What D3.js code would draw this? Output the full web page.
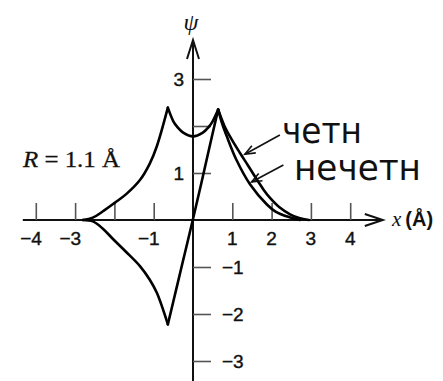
<!DOCTYPE html>
<html>
<head>
<meta charset="utf-8">
<script src="https://cdn.jsdelivr.net/npm/d3@7"></script>
<style>
  html, body { margin: 0; padding: 0; background: #fff; }
  svg { display: block; }
</style>
</head>
<body>
<svg id="chart" width="443" height="381"></svg>
<script>
// Tick positions and their printed labels
const xTicks = [-4, -3, -2, -1, 1, 2, 3, 4];
const xTickLabels = ["−4", "−3", "", "−1", "1", "2", "3", "4"];
const yTicks = [3, 2, 1, -1, -2, -3];
const yTickLabels = ["3", "", "1", "−1", "−2", "−3"];

// Even wavefunction ψ(x), x in Å
const evenX = [-2.8, -2.55, -2.3, -2.0, -1.7, -1.35, -1.1, -0.92, -0.64,
               -0.5, -0.4, -0.25, 0, 0.25, 0.4, 0.5, 0.64,
               0.8, 0.98, 1.2, 1.4, 1.58, 1.8, 1.96, 2.2, 2.47, 2.7, 2.95];
const evenY = [0, 0.05, 0.18, 0.36, 0.55, 0.85, 1.2, 1.57, 2.39,
               2.10, 1.98, 1.86, 1.78, 1.86, 1.98, 2.10, 2.35,
               2.0, 1.72, 1.42, 1.16, 0.92, 0.64, 0.47, 0.27, 0.12, 0.04, 0];
const evenCusps = [-0.64, 0.64];

// Odd wavefunction ψ(x)
const oddX = [-2.8, -2.55, -2.3, -2.03, -1.7, -1.35, -1.1, -0.92, -0.64,
              -0.4, -0.2, 0, 0.2, 0.4, 0.64,
              0.75, 0.86, 1.11, 1.45, 1.88, 2.1, 2.38, 2.72];
const oddY = [0, -0.03, -0.18, -0.41, -0.68, -0.98, -1.27, -1.55, -2.22,
              -1.38, -0.68, 0.02, 0.74, 1.48, 2.35,
              2.03, 1.78, 1.27, 0.76, 0.33, 0.18, 0.08, 0];
const oddCusps = [-0.64, 0.64];

// Curve labels with pointer arrows (from, to) in data units
const curveLabels = ["четн", "нечетн"];
const labelArrowFrom = [[2.21, 1.81], [2.30, 1.17]];
const labelArrowTo = [[1.32, 1.40], [1.49, 0.81]];

const svg = d3.select("#chart");

const x = d3.scaleLinear().domain([-4, 4]).range([35.8, 350.2]);
const y = d3.scaleLinear().domain([-3, 3]).range([361, 79]);

const x0 = x(0), y0 = y(0);

// Axis lines with arrowheads
const axisG = svg.append("g").attr("stroke", "#111").attr("fill", "none")
  .attr("stroke-width", 2);
axisG.append("line").attr("x1", x(-4.33)).attr("x2", x(4.83))
  .attr("y1", y0).attr("y2", y0);
axisG.append("line").attr("x1", x0).attr("x2", x0)
  .attr("y1", y(-3.5)).attr("y2", y(3.83));
const xt = x(4.83), yt = y(3.83);
axisG.append("path").attr("d", `M${xt - 18},${y0 - 6} L${xt},${y0} L${xt - 18},${y0 + 6}`)
  .attr("stroke-linejoin", "miter");
axisG.append("path").attr("d", `M${x0 - 6},${yt + 19} L${x0},${yt} L${x0 + 6},${yt + 19}`)
  .attr("stroke-linejoin", "miter");

// Tick marks
const xAxis = svg.append("g").attr("transform", `translate(0,${y0})`)
  .call(d3.axisTop(x).tickValues(xTicks).tickSize(17).tickFormat(""));
const yAxis = svg.append("g").attr("transform", `translate(${x0},0)`)
  .call(d3.axisRight(y).tickValues(yTicks).tickSize(18).tickFormat(""));
[xAxis, yAxis].forEach(g => {
  g.select(".domain").remove();
  g.selectAll(".tick line").attr("stroke", "#555").attr("stroke-width", 1.6);
});

// Tick labels
const tickFont = "'Liberation Sans', Arial, sans-serif";
svg.append("g").selectAll("text").data(xTicks).join("text")
  .attr("x", (d, i) => d < 0 ? x(d) + 6 : x(d))
  .attr("y", 245)
  .attr("text-anchor", d => d < 0 ? "end" : "middle")
  .attr("font-family", tickFont).attr("font-size", 19).attr("fill", "#111")
  .attr("stroke", "#111").attr("stroke-width", 0.4)
  .text((d, i) => xTickLabels[i]);
svg.append("g").selectAll("text").data(yTicks).join("text")
  .attr("x", d => d > 0 ? x0 - 9 : x0 + 29)
  .attr("y", d => y(d) + 7)
  .attr("text-anchor", d => d > 0 ? "end" : "start")
  .attr("font-family", tickFont).attr("font-size", 19).attr("fill", "#111")
  .attr("stroke", "#111").attr("stroke-width", 0.4)
  .text((d, i) => yTickLabels[i]);

// Split a series at its cusps so the peaks stay sharp
function segments(xs, ys, cusps) {
  const pts = xs.map((v, i) => [v, ys[i]]);
  const out = [];
  let cur = [];
  pts.forEach(p => {
    cur.push(p);
    if (cusps.includes(p[0])) { out.push(cur); cur = [p]; }
  });
  if (cur.length > 1) out.push(cur);
  return out;
}

const line = d3.line().x(d => x(d[0])).y(d => y(d[1]))
  .curve(d3.curveCatmullRom.alpha(0.5));

const curves = svg.append("g").attr("fill", "none").attr("stroke", "#000")
  .attr("stroke-width", 2.6).attr("stroke-linejoin", "miter")
  .attr("stroke-linecap", "round");
segments(evenX, evenY, evenCusps).forEach(s => curves.append("path").attr("d", line(s)));
segments(oddX, oddY, oddCusps).forEach(s => curves.append("path").attr("d", line(s)));

// Pointer arrows for curve labels
const arrows = svg.append("g").attr("stroke", "#111").attr("stroke-width", 1.6)
  .attr("fill", "none");
labelArrowFrom.forEach((f, i) => {
  const t = labelArrowTo[i];
  const fx = x(f[0]), fy = y(f[1]), tx = x(t[0]), ty = y(t[1]);
  arrows.append("line").attr("x1", fx).attr("y1", fy).attr("x2", tx).attr("y2", ty);
  const ang = Math.atan2(fy - ty, fx - tx);
  const L = 11, w = 0.38;
  arrows.append("path").attr("d",
    `M${tx + L * Math.cos(ang + w)},${ty + L * Math.sin(ang + w)} L${tx},${ty} L${tx + L * Math.cos(ang - w)},${ty + L * Math.sin(ang - w)}`);
});

// Curve label text
const labelFont = "'DejaVu Sans', Verdana, sans-serif";
svg.append("text").attr("x", 282).attr("y", 143)
  .attr("font-family", labelFont).attr("font-size", 36).attr("fill", "#111")
  .attr("textLength", 80).attr("lengthAdjust", "spacingAndGlyphs")
  .text(curveLabels[0]);
svg.append("text").attr("x", 294).attr("y", 180)
  .attr("font-family", labelFont).attr("font-size", 36).attr("fill", "#111")
  .attr("textLength", 127).attr("lengthAdjust", "spacingAndGlyphs")
  .text(curveLabels[1]);

// Axis names and the separation note
const serif = "'Liberation Serif', 'Times New Roman', serif";
svg.append("text").attr("x", x0 - 2).attr("y", 30).attr("text-anchor", "middle")
  .attr("font-family", serif).attr("font-style", "italic").attr("font-size", 24)
  .attr("fill", "#111").text("ψ");

const xName = svg.append("text").attr("x", 392).attr("y", 226)
  .attr("font-family", serif).attr("font-size", 21).attr("fill", "#111");
xName.append("tspan").attr("font-style", "italic").text("x");
xName.append("tspan").attr("dx", 4).attr("font-family", tickFont)
  .attr("font-weight", "bold").attr("font-size", 20).text("(Å)");

const rNote = svg.append("text").attr("x", 23).attr("y", 167)
  .attr("font-family", serif).attr("font-size", 23).attr("fill", "#111")
  .attr("stroke", "#111").attr("stroke-width", 0.3)
  .attr("textLength", 97).attr("lengthAdjust", "spacingAndGlyphs");
rNote.append("tspan").attr("font-style", "italic").text("R");
rNote.append("tspan").text(" = 1.1 Å");
</script>
</body>
</html>
